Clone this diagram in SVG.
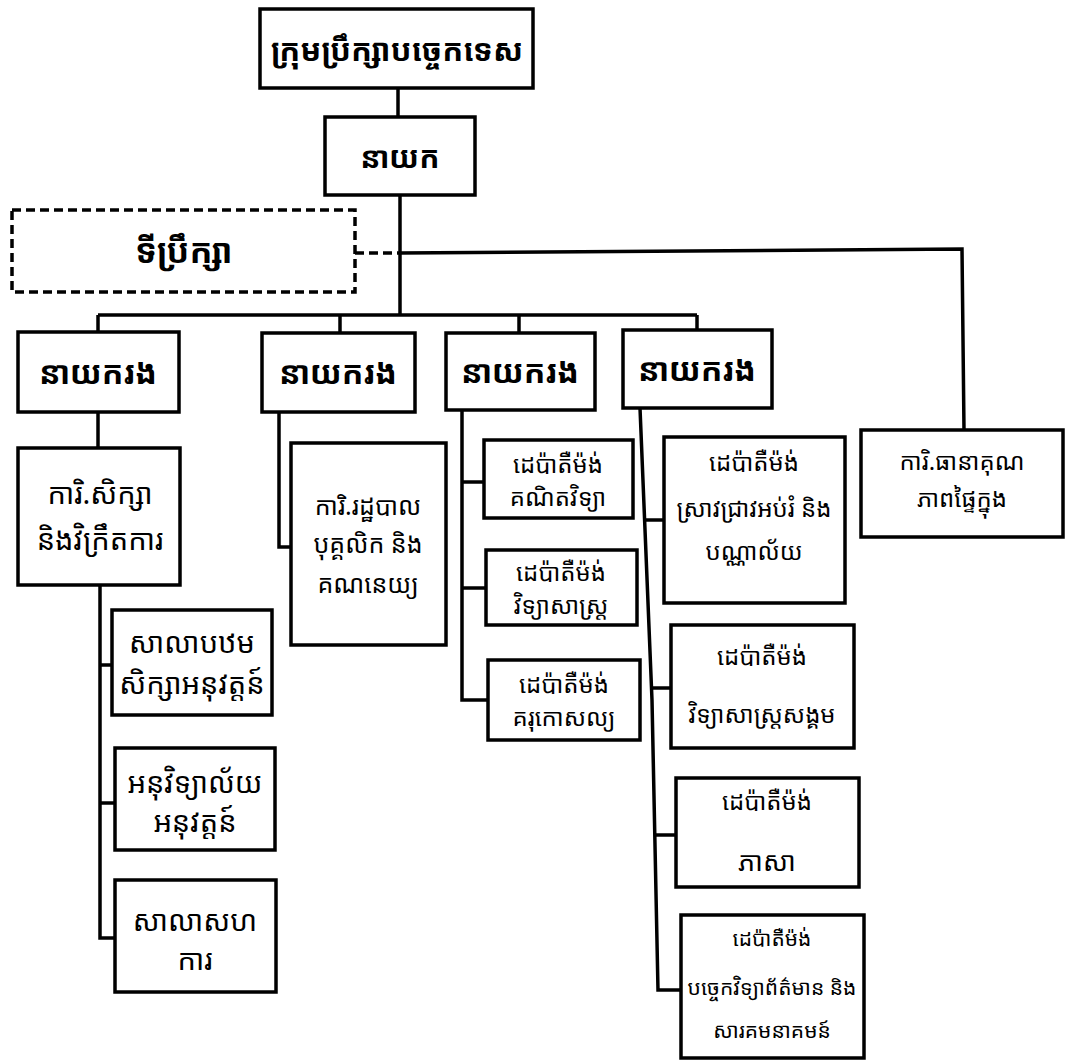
<svg xmlns="http://www.w3.org/2000/svg" width="1072" height="1062" viewBox="0 0 1072 1062">
<style>
.box{fill:#fff;stroke:#000;stroke-width:3.5}
.dash{fill:#fff;stroke:#000;stroke-width:3.5;stroke-dasharray:9 5}
.ln{fill:none;stroke:#000;stroke-width:3.5}
.dl{fill:none;stroke:#000;stroke-width:3.5;stroke-dasharray:9 5}
text{font-family:"Noto Sans Khmer","Noto Sans","DejaVu Sans",sans-serif;fill:#000;text-anchor:middle;dominant-baseline:central}
.h{font-size:32px;font-weight:bold}
.l{font-size:29px}
.t{font-size:25px}
.s{font-size:24px}
.xs{font-size:21px}
</style>
<rect width="1072" height="1062" fill="#fff"/>
<g id="connectors">
<line class="ln" x1="398" y1="88" x2="398" y2="117"/>
<line class="ln" x1="400" y1="195" x2="400" y2="315"/>
<line class="dl" x1="355" y1="253" x2="400" y2="253"/>
<polyline class="ln" points="400,253 962,249 964,430"/>
<line class="ln" x1="98" y1="315" x2="697" y2="315"/>
<line class="ln" x1="98" y1="315" x2="98" y2="332"/>
<line class="ln" x1="340" y1="315" x2="340" y2="333"/>
<line class="ln" x1="519" y1="315" x2="519" y2="333"/>
<line class="ln" x1="697" y1="315" x2="697" y2="330"/>
<line class="ln" x1="98" y1="412" x2="98" y2="448"/>
<polyline class="ln" points="100,585 100,938 115,938"/>
<line class="ln" x1="100" y1="665" x2="112" y2="665"/>
<line class="ln" x1="100" y1="803" x2="115" y2="803"/>
<polyline class="ln" points="279,412 279,547 291,547"/>
<polyline class="ln" points="462,410 462,700 488,700"/>
<line class="ln" x1="462" y1="482" x2="484" y2="482"/>
<line class="ln" x1="462" y1="588" x2="486" y2="588"/>
<polyline class="ln" points="640,408 652,700 658,990 681,990"/>
<line class="ln" x1="644" y1="520" x2="664" y2="520"/>
<line class="ln" x1="651" y1="688" x2="671" y2="688"/>
<line class="ln" x1="654" y1="835" x2="676" y2="835"/>
</g>
<g id="n-council"><rect class="box" x="260" y="9" width="273" height="79"/><text class="h" x="397" y="49" style="font-size:31px">ក្រុមប្រឹក្សាបច្ចេកទេស</text></g>
<g id="n-director"><rect class="box" x="325" y="117" width="150" height="78"/><text class="h" x="400" y="156" style="font-size:30px">នាយក</text></g>
<g id="n-advisor"><rect class="dash" x="12" y="210" width="343" height="82"/><text class="h" x="184" y="250" style="font-size:34px">ទីប្រឹក្សា</text></g>
<g id="n-deputy1"><rect class="box" x="18" y="332" width="161" height="80"/><text class="h" x="98" y="371">នាយករង</text></g>
<g id="n-deputy2"><rect class="box" x="262" y="333" width="153" height="79"/><text class="h" x="338" y="371">នាយករង</text></g>
<g id="n-deputy3"><rect class="box" x="446" y="333" width="149" height="77"/><text class="h" x="520" y="370">នាយករង</text></g>
<g id="n-deputy4"><rect class="box" x="623" y="330" width="149" height="78"/><text class="h" x="697" y="368">នាយករង</text></g>
<g id="n-study"><rect class="box" x="18" y="448" width="162" height="137"/><text class="l" x="100" y="492">ការិ.សិក្សា</text><text class="l" x="100" y="538">និងវិក្រឹតការ</text></g>
<g id="n-admin"><rect class="box" x="291" y="443" width="155" height="202"/><text class="t" x="368" y="505">ការិ.រដ្ឋបាល</text><text class="t" x="368" y="543">បុគ្គលិក និង</text><text class="t" x="368" y="583">គណនេយ្យ</text></g>
<g id="n-math"><rect class="box" x="484" y="440" width="149" height="78"/><text class="s" x="558" y="463">ដេប៉ាតឺម៉ង់</text><text class="s" x="558" y="496">គណិតវិទ្យា</text></g>
<g id="n-science"><rect class="box" x="486" y="550" width="151" height="75"/><text class="s" x="561" y="571">ដេប៉ាតឺម៉ង់</text><text class="s" x="561" y="604">វិទ្យាសាស្ត្រ</text></g>
<g id="n-pedagogy"><rect class="box" x="488" y="660" width="152" height="80"/><text class="s" x="564" y="683">ដេប៉ាតឺម៉ង់</text><text class="s" x="564" y="716">គរុកោសល្យ</text></g>
<g id="n-research"><rect class="box" x="664" y="437" width="181" height="166"/><text class="s" x="754" y="461">ដេប៉ាតឺម៉ង់</text><text class="s" x="754" y="507">ស្រាវជ្រាវអប់រំ និង</text><text class="s" x="754" y="550">បណ្ណាល័យ</text></g>
<g id="n-quality"><rect class="box" x="861" y="430" width="202" height="107"/><text class="s" x="962" y="460">ការិ.ធានាគុណ</text><text class="s" x="962" y="497">ភាពផ្ទៃក្នុង</text></g>
<g id="n-social"><rect class="box" x="671" y="625" width="183" height="123"/><text class="s" x="762" y="655">ដេប៉ាតឺម៉ង់</text><text class="s" x="762" y="713">វិទ្យាសាស្ត្រសង្គម</text></g>
<g id="n-language"><rect class="box" x="676" y="778" width="183" height="109"/><text class="s" x="767" y="800">ដេប៉ាតឺម៉ង់</text><text class="s" x="767" y="860" style="font-size:27px">ភាសា</text></g>
<g id="n-it"><rect class="box" x="681" y="915" width="183" height="143"/><text class="xs" x="772" y="938">ដេប៉ាតឺម៉ង់</text><text class="xs" x="772" y="987">បច្ចេកវិទ្យាព័ត៌មាន និង</text><text class="xs" x="772" y="1030">សារគមនាគមន៍</text></g>
<g id="n-primary"><rect class="box" x="112" y="610" width="160" height="105"/><text class="l" x="192" y="641">សាលាបឋម</text><text class="l" x="192" y="682">សិក្សាអនុវត្តន៍</text></g>
<g id="n-lowersec"><rect class="box" x="115" y="748" width="160" height="102"/><text class="l" x="195" y="781">អនុវិទ្យាល័យ</text><text class="l" x="195" y="820">អនុវត្តន៍</text></g>
<g id="n-coop"><rect class="box" x="115" y="880" width="161" height="112"/><text class="l" x="195" y="919">សាលាសហ</text><text class="l" x="195" y="958">ការ</text></g>
</svg>
